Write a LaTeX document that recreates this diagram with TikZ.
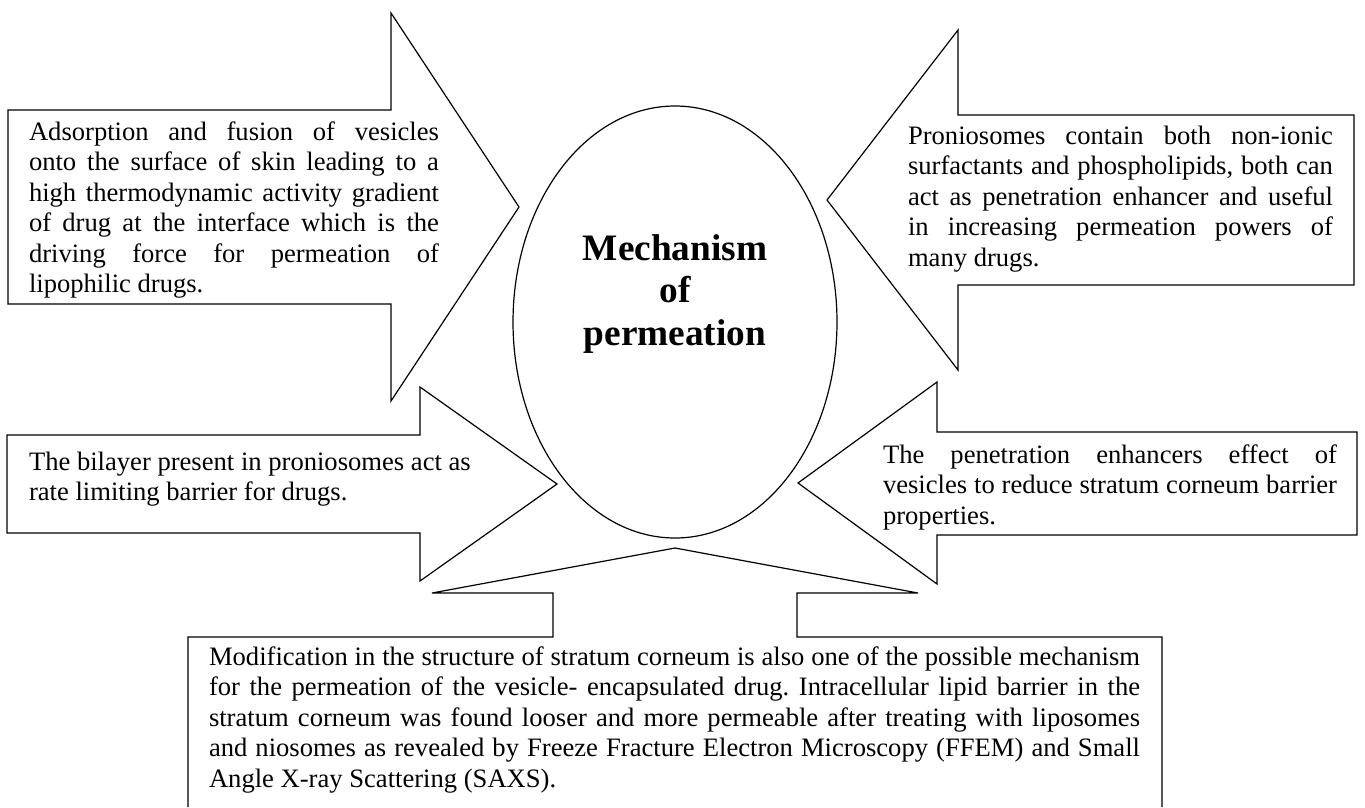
\documentclass[tikz,border=0pt]{standalone}
\usepackage{fontspec}
\setmainfont{Liberation Serif}
\usetikzlibrary{shapes.geometric}
\frenchspacing
\newcommand{\jline}[1]{\makebox[\linewidth][s]{#1}}
\newcommand{\lline}[1]{\makebox[\linewidth][l]{#1}}
\newcommand{\txtblock}[2]{\parbox[t]{#1}{\fontsize{26.6pt}{30.5pt}\selectfont\frenchspacing\setlength{\parindent}{0pt}#2}}
\tikzset{
  outline/.style={draw=black, line width=1.2pt, line join=miter},
  txt/.style={anchor=base west, inner sep=0pt, outer sep=0pt},
}
\begin{document}
\begin{tikzpicture}[x=1pt, y=-1pt]
\useasboundingbox[fill=white] (0,0) rectangle (1365,807);

% central ellipse
\node[outline, ellipse, minimum width=324pt, minimum height=432pt, inner sep=0pt] (core) at (675,322) {};

% top-left arrow
\draw[outline] (8,110) -- (391,110) -- (391,13) -- (519,207) -- (391,401) -- (391,304) -- (8,304) -- cycle;
% top-right arrow
\draw[outline] (1354,115) -- (958,115) -- (958,30) -- (827,200) -- (958,370) -- (958,285) -- (1354,285) -- cycle;
% lower-left arrow
\draw[outline] (7,435) -- (420,435) -- (420,387) -- (557,484) -- (420,581) -- (420,533) -- (7,533) -- cycle;
% lower-right arrow
\draw[outline] (1357,432) -- (937,432) -- (937,382) -- (798,483) -- (937,584) -- (937,535) -- (1357,535) -- cycle;
% bottom arrow
\draw[outline] (188,807) -- (188,637) -- (553,637) -- (553,593) -- (432,593) -- (675,548) -- (918,593) -- (797,593) -- (797,637) -- (1162,637) -- (1162,807);

% title
\node[anchor=base, inner sep=0pt] (title) at (675,260) {\parbox[t]{300pt}{\centering\bfseries\fontsize{37.3pt}{42.5pt}\selectfont Mechanism\\of\\permeation}};

% texts
\node[txt] (tl) at (29,140) {\txtblock{410pt}{%
\jline{Adsorption and fusion of vesicles}\\
\jline{onto the surface of skin leading to a}\\
\jline{high thermodynamic activity gradient}\\
\jline{of drug at the interface which is the}\\
\jline{driving force for permeation of}\\
\lline{lipophilic drugs.}}};

\node[txt] (tr) at (908,144) {\txtblock{425pt}{%
\jline{Proniosomes contain both non-ionic}\\
\jline{surfactants and phospholipids, both can}\\
\jline{act as penetration enhancer and useful}\\
\jline{in increasing permeation powers of}\\
\lline{many drugs.}}};

\node[txt] (ll) at (29,470) {\txtblock{450pt}{%
\lline{The bilayer present in proniosomes act as}\\
\lline{rate limiting barrier for drugs.}}};

\node[txt] (lr) at (883,463) {\txtblock{454pt}{%
\jline{The penetration enhancers effect of}\\
\jline{vesicles to reduce stratum corneum barrier}\\
\lline{properties.}}};

\node[txt] (bt) at (209,665) {\txtblock{931pt}{%
\jline{Modification in the structure of stratum corneum is also one of the possible mechanism}\\
\jline{for the permeation of the vesicle- encapsulated drug. Intracellular lipid barrier in the}\\
\jline{stratum corneum was found looser and more permeable after treating with liposomes}\\
\jline{and niosomes as revealed by Freeze Fracture Electron Microscopy (FFEM) and Small}\\
\lline{Angle X-ray Scattering (SAXS).}}};
\end{tikzpicture}
\end{document}
